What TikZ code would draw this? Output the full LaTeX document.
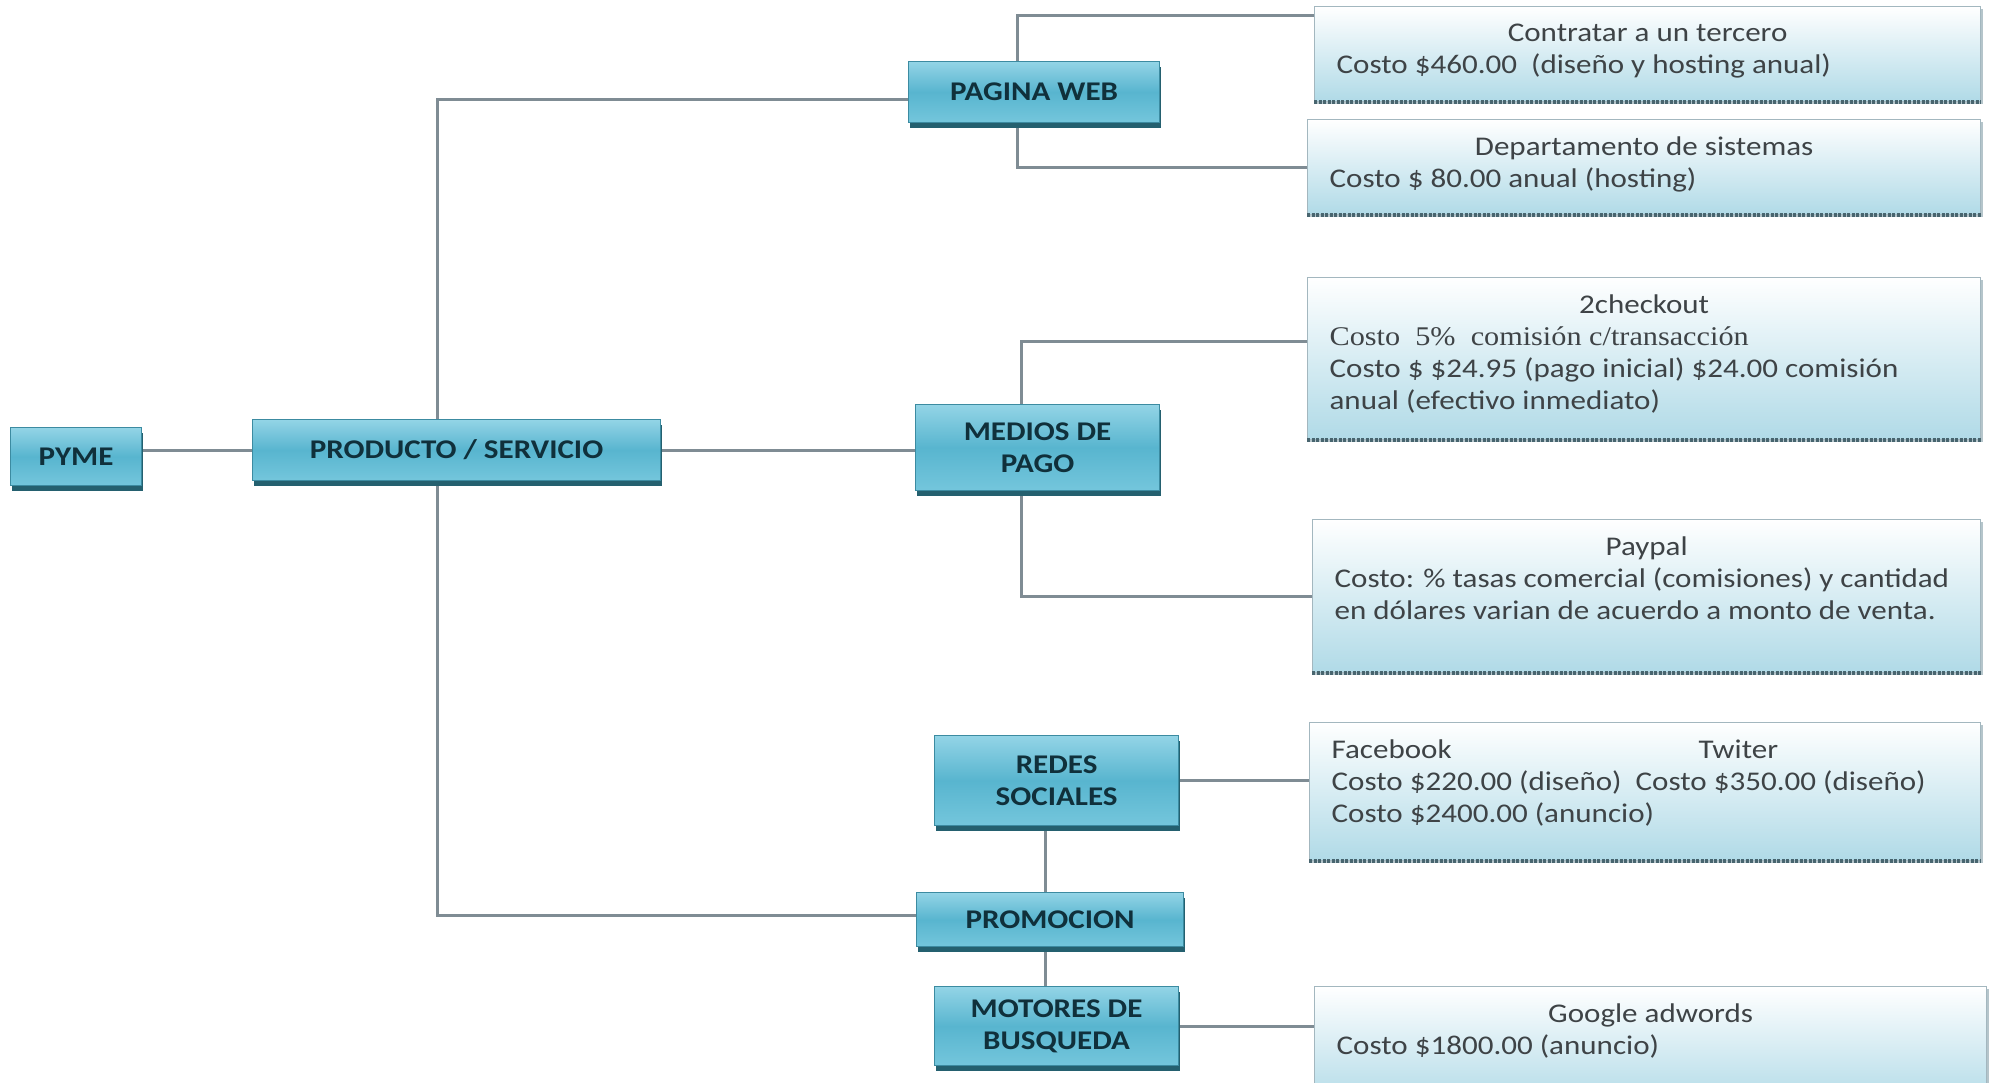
\documentclass[tikz,border=0pt]{standalone}
\usepackage{fontspec}
\setmainfont[FakeStretch=1.15]{Carlito}
\newfontfamily\serifA[FakeStretch=1.12]{Liberation Serif}
\usetikzlibrary{shadows,backgrounds,calc}
\definecolor{btop}{HTML}{93D4E6}
\definecolor{bmid}{HTML}{58B5CF}
\definecolor{bbot}{HTML}{74C6DC}
\definecolor{bedge}{HTML}{3C8BA1}
\definecolor{bshad}{HTML}{24606F}
\definecolor{btext}{HTML}{10303B}
\definecolor{dbot}{HTML}{B0DAE7}
\definecolor{dedge}{HTML}{A3B7BF}
\definecolor{dtext}{HTML}{3E4346}
\definecolor{dshad}{HTML}{48656F}
\definecolor{lineC}{HTML}{7F8C94}
\tikzset{
  bluebox/.style={draw=bedge, line width=1.2pt, top color=btop, bottom color=bbot, middle color=bmid,
    text=btext, font=\fontsize{27}{32}\selectfont\bfseries, align=center, inner sep=0pt, anchor=north west,
    drop shadow={shadow xshift=1pt, shadow yshift=-5pt, fill=bshad, opacity=1}},
  detailbox/.style={draw=dedge, line width=1.2pt, top color=white, bottom color=dbot,
    text=dtext, font=\fontsize{27}{32}\selectfont, inner xsep=22pt, inner ysep=0pt, anchor=north west,
    drop shadow={shadow xshift=2pt, shadow yshift=-2pt, fill=dedge, opacity=0.8}},
  conn/.style={draw=lineC, line width=3pt},
  dashedge/.style={draw=dshad, line width=3.5pt, dash pattern=on 3pt off 1.5pt}
}
\newcommand{\ttl}[1]{{\centering #1\par}}
\begin{document}
\begin{tikzpicture}[x=1pt,y=-1pt]
\useasboundingbox (0,0) rectangle (1993,1082);
\clip (0,0) rectangle (1993,1082);
% blue boxes
\node[bluebox, minimum width=131pt, minimum height=58pt] (pyme) at (10,427) {PYME};
\node[bluebox, minimum width=408pt, minimum height=61pt] (prod) at (252,419) {PRODUCTO / SERVICIO};
\node[bluebox, minimum width=251pt, minimum height=61pt] (web) at (908,61) {PAGINA WEB};
\node[bluebox, minimum width=244pt, minimum height=86pt] (medios) at (915,404) {MEDIOS DE\\PAGO};
\node[bluebox, minimum width=244pt, minimum height=90pt] (redes) at (934,735) {REDES\\SOCIALES};
\node[bluebox, minimum width=267pt, minimum height=54pt] (promo) at (916,892) {PROMOCION};
\node[bluebox, minimum width=244pt, minimum height=79pt] (motores) at (934,986) {MOTORES DE\\BUSQUEDA};
% detail boxes
\node[detailbox] (b1) at (1314,6) {\parbox[c][95pt][t]{622pt}{\vspace*{17pt}\ttl{Contratar a un tercero}Costo \$460.00\ \ (diseño y hosting anual)}};
\node[detailbox] (b2) at (1307,119) {\parbox[c][95pt][t]{629pt}{\vspace*{17pt}\ttl{Departamento de sistemas}Costo \$ 80.00 anual (hosting)}};
\node[detailbox] (b3) at (1307,277) {\parbox[c][162pt][t]{629pt}{\vspace*{17pt}\ttl{2checkout}{\serifA Costo\ \ 5\%\ \ comisión c/transacción}\\Costo \$ \$24.95 (pago inicial) \$24.00 comisión\\anual (efectivo inmediato)}};
\node[detailbox] (b4) at (1312,519) {\parbox[c][153pt][t]{624pt}{\vspace*{17pt}\ttl{Paypal}Costo: \% tasas comercial (comisiones) y cantidad\\en dólares varian de acuerdo a monto de venta.}};
\node[detailbox] (b5) at (1309,722) {\parbox[c][138pt][t]{627pt}{\vspace*{17pt}\makebox[367pt][l]{Facebook}Twiter\\Costo \$220.00 (diseño)\ \ Costo \$350.00 (diseño)\\Costo \$2400.00 (anuncio)}};
\node[detailbox] (b6) at (1314,986) {\parbox[c][120pt][t]{628pt}{\vspace*{17pt}\ttl{Google adwords}Costo \$1800.00 (anuncio)}};
% dashed bottom edges
\foreach \b in {b1,b2,b3,b4,b5}{
  \draw[dashedge] (\b.south west) -- (\b.south east);
}
% connectors
\begin{pgfonlayer}{background}
\fill[white] (0,0) rectangle (1993,1082);
\coordinate (tt) at (437,99);
\coordinate (tb) at (437,915);
\draw[conn] (pyme.east |- prod.west) -- (prod.west);
\draw[conn] (tt -| web.west) -- (tt) -- (tb) -- (tb -| promo.west);
\draw[conn] (prod.east) -- (prod.east -| medios.west);
\coordinate (wv) at (1017,15);
\draw[conn] (b1.west |- wv) -- (wv) |- (b2.west);
\coordinate (mv) at (1021,341);
\draw[conn] (b3.west |- mv) -- (mv) |- (b4.west);
\draw[conn] (redes.east) -- (redes.east -| b5.west);
\coordinate (pv) at (1045,780);
\draw[conn] (pv) -- (pv |- motores.north);
\draw[conn] (motores.east) -- (motores.east -| b6.west);
\end{pgfonlayer}
\end{tikzpicture}
\end{document}
